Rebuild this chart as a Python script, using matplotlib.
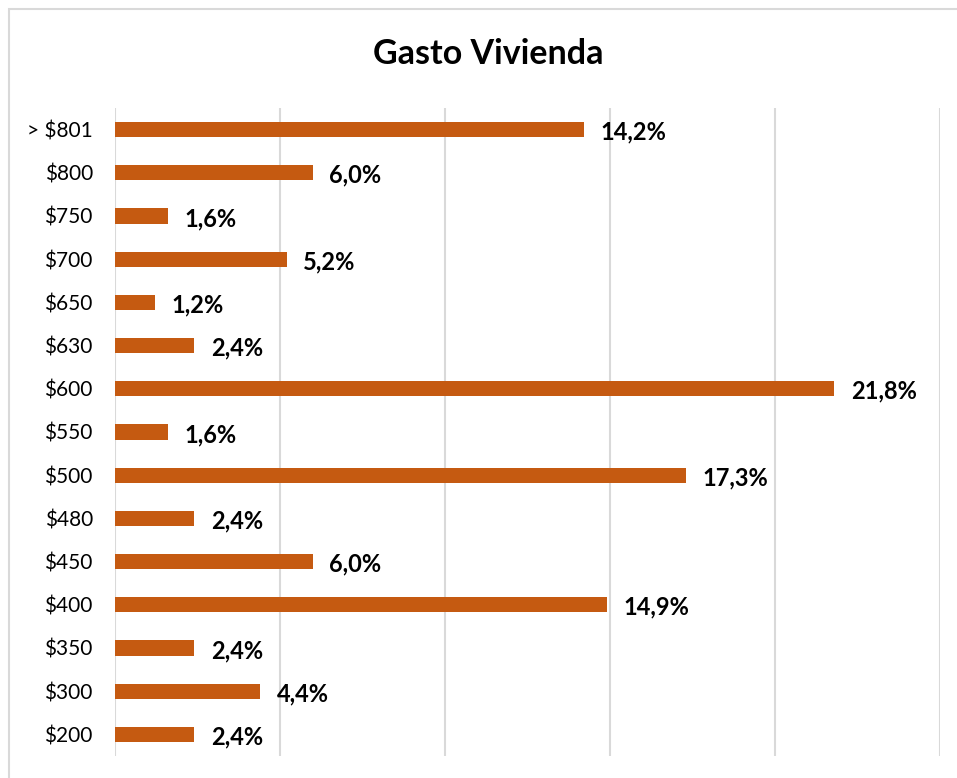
import matplotlib
matplotlib.use('Agg')
import matplotlib.pyplot as plt
from matplotlib.patches import Rectangle

# Gasto Vivienda — share of households by monthly housing spend
categories = ['$200', '$300', '$350', '$400', '$450', '$480', '$500', '$550',
              '$600', '$630', '$650', '$700', '$750', '$800', '> $801']
values = [2.4, 4.4, 2.4, 14.9, 6.0, 2.4, 17.3, 1.6,
          21.8, 2.4, 1.2, 5.2, 1.6, 6.0, 14.2]
labels = ['%.1f%%' % v for v in values]
labels = [s.replace('.', ',') for s in labels]

BAR_COLOR = '#C55A11'
GRID_COLOR = '#D9D9D9'

plt.rcParams['font.family'] = ['Lato', 'DejaVu Sans']

fig = plt.figure(figsize=(9.57, 7.78), dpi=100)
fig.patch.set_facecolor('white')

# chart area border (Excel style, runs off the right/bottom edge)
fig.patches.append(Rectangle((9 / 957, -0.05), 1.0, 1 - 9 / 778 + 0.05,
                             transform=fig.transFigure, fill=False,
                             edgecolor='#D9D9D9', linewidth=1.5))

ax = fig.add_axes([115 / 957, 1 - 756 / 778, (940 - 115) / 957, (756 - 108) / 778])

y = range(len(categories))
ax.barh(y, values, height=0.35, color=BAR_COLOR, zorder=3)

for i, (v, s) in enumerate(zip(values, labels)):
    ax.text(v + 0.5, i - 0.06, s, va='center', ha='left', fontsize=17,
            fontweight='bold', color='black', zorder=4)

ax.set_xlim(0, 25)
ax.set_ylim(-0.5, len(categories) - 0.5)
ax.set_xticks([0, 5, 10, 15, 20, 25])
ax.set_xticklabels([])
ax.set_yticks(list(y))
ax.set_yticklabels(categories, fontsize=15)
ax.tick_params(axis='both', length=0)
ax.tick_params(axis='y', pad=16)
ax.grid(axis='x', color=GRID_COLOR, linewidth=1.5, zorder=0)
for sp in ax.spines.values():
    sp.set_visible(False)

fig.text(488 / 957, 1 - 54 / 778, 'Gasto Vivienda', ha='center', va='center',
         fontsize=24.5, fontweight='bold')

plt.savefig('out.png', dpi=100, facecolor='white')
